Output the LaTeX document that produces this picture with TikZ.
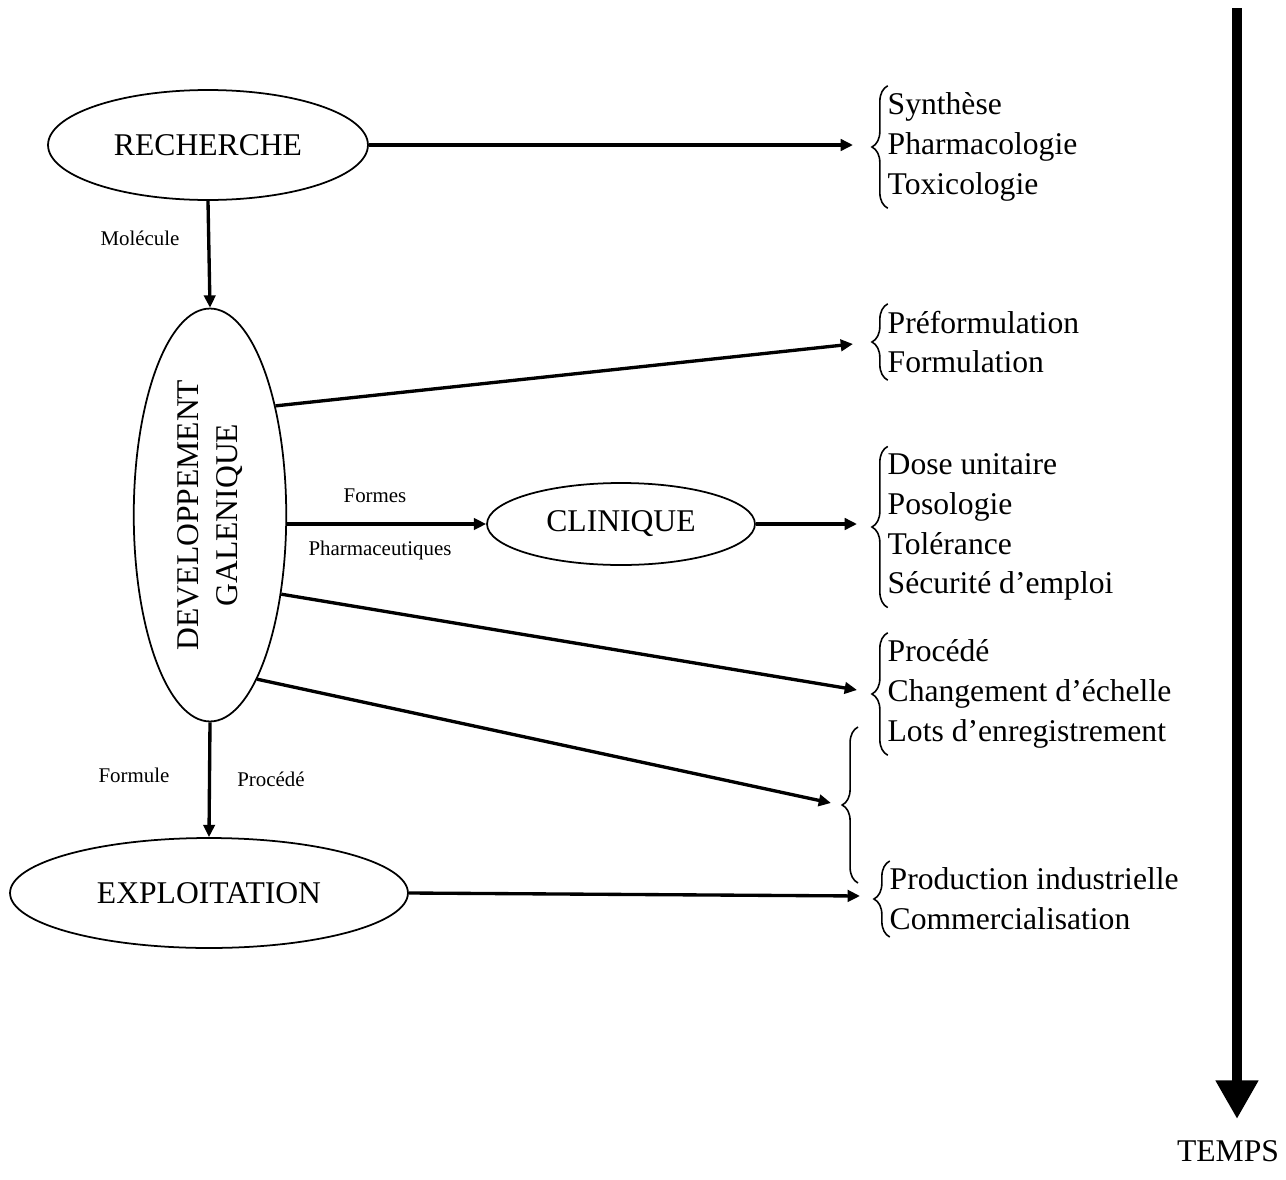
\documentclass[tikz,border=0pt]{standalone}
\usepackage{fontspec}
\setmainfont{Liberation Serif}
\usetikzlibrary{arrows.meta,decorations.pathreplacing,shapes.geometric}
\newcommand{\listfont}{\fontsize{18}{22.7}\selectfont}
\newcommand{\labfont}{\fontsize{11.9}{14}\selectfont}

\begin{document}
\begin{tikzpicture}[x=0.02cm,y=-0.02cm,>={Triangle[length=7pt,width=6.5pt]},line width=1.9pt]
    \tikzstyle{stage}=[ellipse,draw,line width=1pt,inner sep=0pt,font=\listfont]
    \tikzstyle{list}=[anchor=west,align=left,inner sep=0pt,font=\listfont]
    \tikzstyle{lab}=[font=\labfont]
    \tikzstyle{curly}=[decorate,decoration={brace,amplitude=9pt},line width=0.9pt]
    \useasboundingbox (0,0) rectangle (1286,1180);

    \node[stage,minimum width=6.4cm,minimum height=2.2cm] (rech) at (208,145) {RECHERCHE};
    \node[stage,minimum width=3.05cm,minimum height=8.26cm] (dev) at (210,515)
        {\rotatebox{90}{\begin{tabular}{@{}c@{}}DEVELOPPEMENT\\GALENIQUE\end{tabular}}};
    \node[stage,minimum width=5.36cm,minimum height=1.64cm] (clin) at (621,524) {CLINIQUE};
    \node[stage,minimum width=7.96cm,minimum height=2.2cm] (expl) at (209,893) {EXPLOITATION};

    \node[list] (l-rech) at (886,147) {Synthèse\\Pharmacologie\\Toxicologie};
    \node[list] (l-form) at (886,342) {Préformulation\\Formulation};
    \node[list] (l-clin) at (886,527) {Dose unitaire\\Posologie\\Tolérance\\Sécurité d’emploi};
    \node[list] (l-proc) at (886,694) {Procédé\\Changement d’échelle\\Lots d’enregistrement};
    \node[list] (l-expl) at (888,899) {Production industrielle\\Commercialisation};

    \foreach \l in {l-rech,l-form,l-clin,l-proc,l-expl}
        \draw[curly] ([xshift=1pt,yshift=-3pt]\l.south west) -- ([xshift=1pt,yshift=3pt]\l.north west);

    \coordinate (mid-bot) at (858,883);
    \coordinate (mid-top) at (858,727);
    \draw[curly] (mid-bot) -- (mid-top);

    \coordinate (e-rech) at (853,145);
    \coordinate (e-form) at (853,344);
    \coordinate (e-clin) at (857,524);
    \coordinate (e-proc) at (857,690);
    \coordinate (e-mid) at (831,803);
    \coordinate (e-expl) at (860,896);

    \draw[->] (rech.east) -- (e-rech);
    \draw[->] (rech.south) -- (dev.north);
    \draw[->] (dev.59) -- (e-form);
    \draw[->] (dev.east |- clin.west) -- (clin.west);
    \draw[->] (clin.east) -- (e-clin);
    \draw[->] (dev.-48) -- (e-proc);
    \draw[->] (dev.-74) -- (e-mid);
    \draw[->] (dev.south) -- (expl.north);
    \draw[->] (expl.east) -- (e-expl);

    \node[lab] (mol) at (140,238) {Molécule};
    \node[lab] (formes) at (375,496) {Formes};
    \node[lab] (pharm) at (380,550) {Pharmaceutiques};
    \node[lab] (formule) at (134,775) {Formule};
    \node[lab] (procede) at (271,779) {Procédé};

    % time axis
    \coordinate (t-top) at (1237,8);
    \coordinate (t-bot) at (1237,1119);
    \draw[line width=5.5pt,-{Triangle[length=22pt,width=23pt]}] (t-top) -- (t-bot);
    \node[font=\listfont] (temps) at (1228,1151) {TEMPS};
\end{tikzpicture}
\end{document}
